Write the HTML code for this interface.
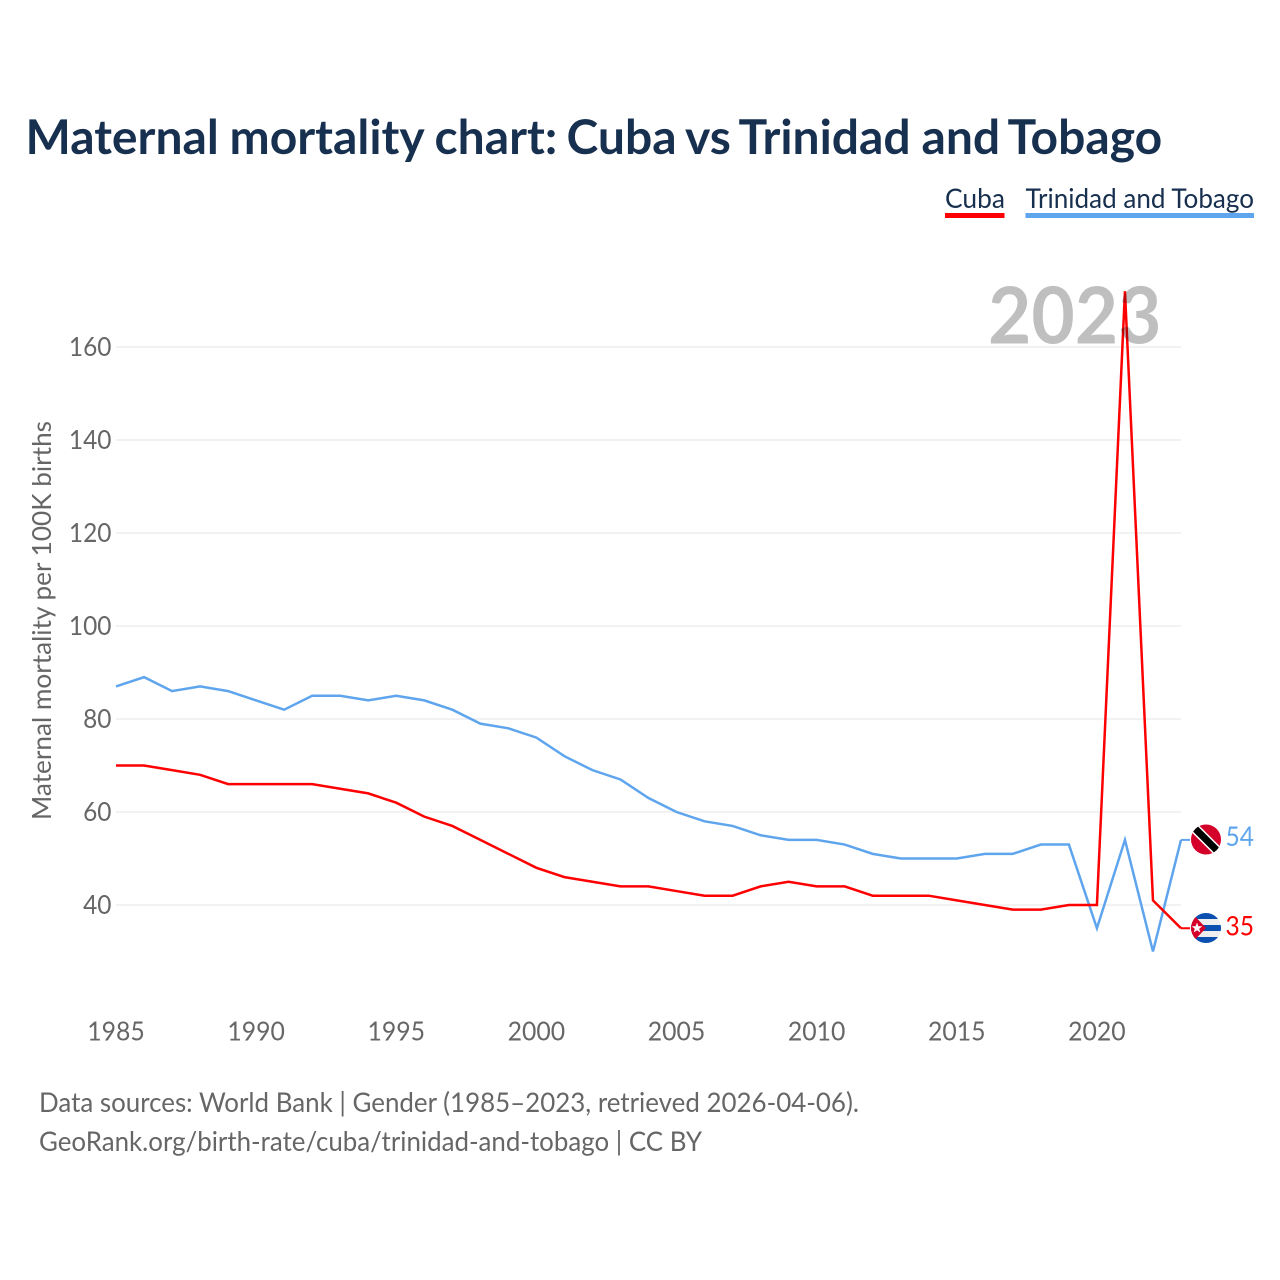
<!DOCTYPE html>
<html lang="en">
<head>
<meta charset="utf-8">
<title>Maternal mortality chart: Cuba vs Trinidad and Tobago</title>
<style>
html,body{margin:0;padding:0;background:#fff;}
svg{display:block;}
text{font-family:"Lato","Carlito","Liberation Sans",sans-serif;}
</style>
</head>
<body>
<svg id="chart" xmlns="http://www.w3.org/2000/svg" width="1280" height="1280" viewBox="0 0 1280 1280">
  <defs>
    <clipPath id="flag-clip-tt"><circle cx="1206" cy="839.5" r="15"/></clipPath>
    <clipPath id="flag-clip-cu"><circle cx="1206" cy="928" r="15"/></clipPath>
  </defs>
  <rect x="0" y="0" width="1280" height="1280" fill="#ffffff"/>
  <text y="154" font-size="48" font-weight="700" fill="#18304f"><tspan x="25.5">Maternal</tspan> <tspan x="229.5">mortality</tspan> <tspan x="434.5">chart:</tspan> <tspan x="566.5">Cuba</tspan> <tspan x="685">vs</tspan> <tspan x="738.5">Trinidad</tspan> <tspan x="921.5">and</tspan> <tspan x="1007.5">Tobago</tspan></text>

  <g>
    <g>
      <text x="945" y="208" font-size="27.5" fill="#18304f" textLength="60" lengthAdjust="spacingAndGlyphs">Cuba</text>
      <rect x="945" y="213" width="59.5" height="5" fill="#ff0000"/>
    </g>
    <g>
      <text x="1025.5" y="208" font-size="27.5" fill="#18304f" textLength="228.5" lengthAdjust="spacingAndGlyphs">Trinidad and Tobago</text>
      <rect x="1025.5" y="213" width="228.5" height="5" fill="#5ea5ee"/>
    </g>
  </g>

  <g id="grid"></g>
  <g id="yticks"></g>
  <g id="xticks"></g>
  <text transform="translate(51 620.5) rotate(-90)" text-anchor="middle" font-size="26.5" fill="#666666" textLength="399" lengthAdjust="spacingAndGlyphs">Maternal mortality per 100K births</text>

  <g id="series"></g>
  <text x="988" y="343.5" font-size="79" font-weight="700" fill="#000000" fill-opacity="0.25" textLength="173.5" lengthAdjust="spacingAndGlyphs">2023</text>

  <g clip-path="url(#flag-clip-tt)">
    <rect x="1190" y="823" width="32" height="33" fill="#d5002a"/>
    <line x1="1190" y1="823.5" x2="1222" y2="855.5" stroke="#ffffff" stroke-width="10"/>
    <line x1="1190" y1="823.5" x2="1222" y2="855.5" stroke="#000000" stroke-width="7"/>
  </g>
  <g clip-path="url(#flag-clip-cu)">
    <rect x="1190" y="912" width="32" height="32" fill="#eeeeee"/>
    <rect x="1190" y="912" width="32" height="7" fill="#0b4fb0"/>
    <rect x="1190" y="925" width="32" height="6" fill="#0b4fb0"/>
    <rect x="1190" y="937" width="32" height="8" fill="#0b4fb0"/>
    <polygon points="1190,911 1206,928 1190,945" fill="#d5002a"/>
    <polygon points="1197,922.5 1198.4,926.2 1202.3,926.3 1199.2,928.7 1200.3,932.5 1197,930.3 1193.7,932.5 1194.8,928.7 1191.7,926.3 1195.6,926.2" fill="#ffffff"/>
  </g>
  <text x="1225.5" y="846" font-size="27.5" fill="#5ea5ee" textLength="28.5" lengthAdjust="spacingAndGlyphs">54</text>
  <text x="1225.5" y="935.5" font-size="27.5" fill="#ff0000" textLength="28.5" lengthAdjust="spacingAndGlyphs">35</text>

  <text x="39" y="1112" font-size="27.5" fill="#666666" textLength="820" lengthAdjust="spacingAndGlyphs">Data sources: World Bank | Gender (1985–2023, retrieved 2026-04-06).</text>
  <text x="39" y="1151" font-size="27.5" fill="#666666" textLength="663" lengthAdjust="spacingAndGlyphs">GeoRank.org/birth-rate/cuba/trinidad-and-tobago | CC BY</text>
</svg>
<script>
var years = [1985,1986,1987,1988,1989,1990,1991,1992,1993,1994,1995,1996,1997,1998,1999,2000,2001,2002,2003,2004,2005,2006,2007,2008,2009,2010,2011,2012,2013,2014,2015,2016,2017,2018,2019,2020,2021,2022,2023];
var cubaValues = [70,70,69,68,66,66,66,66,65,64,62,59,57,54,51,48,46,45,44,44,43,42,42,44,45,44,44,42,42,42,41,40,39,39,40,40,172,41,35];
var trinidadValues = [87,89,86,87,86,84,82,85,85,84,85,84,82,79,78,76,72,69,67,63,60,58,57,55,54,54,53,51,50,50,50,51,51,53,53,35,54,30,54];
var yTicks = [40,60,80,100,120,140,160];
var xTicks = [1985,1990,1995,2000,2005,2010,2015,2020];

var NS = 'http://www.w3.org/2000/svg';
function xScale(year) { return 116 + (year - 1985) * (1181 - 116) / 38; }
function yScale(v) { return 905 - (v - 40) * (905 - 347) / 120; }

function make(tag, parent) {
  var el = document.createElementNS(NS, tag);
  parent.appendChild(el);
  return el;
}

var gridGroup = document.getElementById('grid');
var yGroup = document.getElementById('yticks');
yTicks.forEach(function (t) {
  var line = make('line', gridGroup);
  
  
  line.setAttribute('x1', 116);
  line.setAttribute('x2', 1181);
  line.setAttribute('y1', yScale(t));
  line.setAttribute('y2', yScale(t));
  line.setAttribute('stroke', '#e9e9e9');
  line.setAttribute('stroke-width', 1.2);
  var label = make('text', yGroup);
  
  
  label.setAttribute('x', 111.5);
  label.setAttribute('y', yScale(t) + 9);
  label.setAttribute('text-anchor', 'end');
  label.setAttribute('font-size', 26.5);
  label.setAttribute('fill', '#666666');
  label.setAttribute('textLength', String(t).length * 14.2);
  label.setAttribute('lengthAdjust', 'spacingAndGlyphs');
  label.textContent = t;
});

var xGroup = document.getElementById('xticks');
xTicks.forEach(function (t) {
  var label = make('text', xGroup);
  
  
  label.setAttribute('x', xScale(t));
  label.setAttribute('y', 1040.5);
  label.setAttribute('text-anchor', 'middle');
  label.setAttribute('font-size', 26.5);
  label.setAttribute('fill', '#666666');
  label.setAttribute('textLength', 57.5);
  label.setAttribute('lengthAdjust', 'spacingAndGlyphs');
  label.textContent = t;
});

function linePoints(values) {
  return values.map(function (v, i) {
    return xScale(years[i]).toFixed(2) + ',' + yScale(v).toFixed(2);
  }).join(' ');
}

var seriesGroup = document.getElementById('series');

var trinidadLine = make('polyline', seriesGroup);


trinidadLine.setAttribute('points', linePoints(trinidadValues));
trinidadLine.setAttribute('fill', 'none');
trinidadLine.setAttribute('stroke', '#5ea5ee');
trinidadLine.setAttribute('stroke-width', 2.5);
trinidadLine.setAttribute('stroke-linejoin', 'miter');

var trinidadLead = make('line', seriesGroup);


trinidadLead.setAttribute('x1', xScale(2023));
trinidadLead.setAttribute('x2', 1190);
trinidadLead.setAttribute('y1', yScale(trinidadValues[trinidadValues.length - 1]));
trinidadLead.setAttribute('y2', yScale(trinidadValues[trinidadValues.length - 1]));
trinidadLead.setAttribute('stroke', '#5ea5ee');
trinidadLead.setAttribute('stroke-width', 2);

var cubaLine = make('polyline', seriesGroup);


cubaLine.setAttribute('points', linePoints(cubaValues));
cubaLine.setAttribute('fill', 'none');
cubaLine.setAttribute('stroke', '#ff0000');
cubaLine.setAttribute('stroke-width', 2.5);
cubaLine.setAttribute('stroke-linejoin', 'miter');

var cubaLead = make('line', seriesGroup);


cubaLead.setAttribute('x1', xScale(2023));
cubaLead.setAttribute('x2', 1190);
cubaLead.setAttribute('y1', yScale(cubaValues[cubaValues.length - 1]));
cubaLead.setAttribute('y2', yScale(cubaValues[cubaValues.length - 1]));
cubaLead.setAttribute('stroke', '#ff0000');
cubaLead.setAttribute('stroke-width', 2);
</script>
</body>
</html>
